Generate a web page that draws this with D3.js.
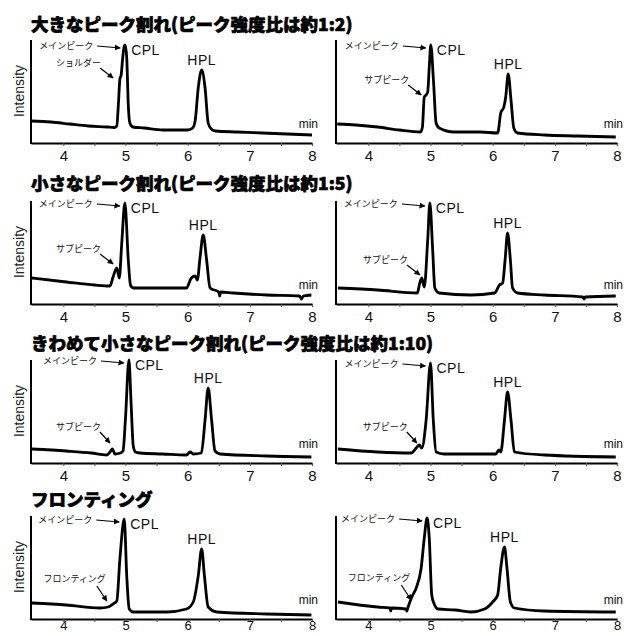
<!DOCTYPE html>
<html>
<head>
  <meta charset="utf-8">
  <script src="https://d3js.org/d3.v7.min.js"></script>
  <style>
    html, body {
        margin:0px;
        padding:0px;
        background:#fff;
    }
    text {
        font-family: "Liberation Sans", Arial, sans-serif;
    }
    .jp {
        font-family: "Noto Sans CJK JP", sans-serif;
    }
  </style>
  <title></title>
</head>
<body>
<script>
    // x axis (min) and labels
    var xDomain = [3.48, 8];
    var xTickLabels = [4, 5, 6, 7, 8];
    var xMinorTicks = [4, 4.5, 5, 5.5, 6, 6.5, 7, 7.5, 8];

    var rowTitles = [
        "大きなピーク割れ(ピーク強度比は約1:2)",
        "小さなピーク割れ(ピーク強度比は約1:5)",
        "きわめて小さなピーク割れ(ピーク強度比は約1:10)",
        "フロンティング"
    ];
    var mainLabel = "メインピーク";
    var subLabels = ["ショルダー", "サブピーク", "サブピーク", "サブピーク",
                     "サブピーク", "サブピーク", "フロンティング", "フロンティング"];

    // traces: [min, intensity]
    var trace1L = [[3.48,22],[3.8,21],[4.1,19],[4.4,17],[4.7,16],[4.82,15.5],[4.86,17],[4.885,38],[4.91,64],[4.93,68],[4.955,85],[4.98,97],[4.995,98],[5.02,85],[5.045,38],[5.07,20],[5.12,16],[5.3,15],[5.6,13],[6.0,13],[6.08,15],[6.12,22],[6.17,55],[6.225,73],[6.28,55],[6.33,20],[6.38,14],[6.45,12],[6.8,11],[7.2,10],[7.6,9],[8.0,8]];
    var trace1R = [[3.5,19],[3.8,18],[4.15,16],[4.5,13],[4.84,11],[4.87,16],[4.9,46],[4.93,48],[4.955,51],[4.98,76],[5.005,98],[5.05,60],[5.09,20],[5.14,15],[5.38,11],[5.8,11],[6.08,10],[6.13,30],[6.18,36],[6.21,46],[6.25,69],[6.295,43],[6.34,15],[6.4,10],[6.83,8],[7.37,7],[7.98,6]];
    var trace2L = [[3.49,26],[4.05,22],[4.5,19],[4.75,18],[4.8,27],[4.86,36],[4.9,26],[4.94,61],[4.99,101],[5.045,44],[5.08,19],[5.13,16],[5.66,16],[5.98,16],[6.06,26],[6.12,28],[6.155,24],[6.2,47],[6.25,69],[6.305,44],[6.36,16],[6.5,12],[6.515,8],[6.53,12],[6.73,11],[7.27,9],[7.8,8],[7.83,5],[7.86,8],[7.99,9]];
    var trace2R = [[3.51,16],[4.15,14],[4.79,11],[4.82,19],[4.86,26],[4.9,17],[4.955,64],[4.99,101],[5.035,54],[5.07,16],[5.14,11],[5.65,9],[6.03,11],[6.11,19],[6.16,21],[6.2,44],[6.24,71],[6.285,44],[6.32,16],[6.4,11],[6.83,9],[7.45,7],[7.47,5],[7.49,7],[7.98,8]];
    var trace3L = [[3.49,14],[4.05,12],[4.45,10],[4.7,8],[4.75,11],[4.79,14],[4.83,9],[4.92,10],[4.96,12],[5.0,45],[5.055,103],[5.09,60],[5.125,17],[5.16,11],[5.23,10],[5.6,9],[5.98,8],[6.04,11],[6.09,9],[6.22,10],[6.28,43],[6.33,75],[6.385,43],[6.44,12],[6.52,9],[7.27,7],[7.99,6]];
    var trace3R = [[3.51,14],[4.15,11],[4.69,10],[4.77,15],[4.82,18],[4.86,15],[4.93,43],[5.0,100],[5.045,43],[5.09,11],[5.22,9],[6.05,9],[6.1,13],[6.13,11],[6.19,43],[6.24,71],[6.295,43],[6.35,11],[6.83,8],[7.98,6]];
    var trace4L = [[3.49,16],[4.05,14],[4.59,11],[4.72,12],[4.8,15],[4.86,18],[4.91,60],[4.98,100],[5.02,43],[5.06,10],[5.125,7],[5.66,7],[5.98,10],[6.09,17],[6.17,43],[6.225,70],[6.27,43],[6.33,12],[6.47,7],[7.27,5],[7.99,4]];
    var trace4R = [[3.51,17],[4.15,12],[4.35,11],[4.36,8],[4.37,11],[4.6,10],[4.62,8],[4.64,12],[4.7,22],[4.77,31],[4.85,51],[4.9,81],[4.945,101],[4.98,81],[5.02,24],[5.06,15],[5.12,10],[5.4,9],[5.65,7],[5.87,10],[6.0,17],[6.08,24],[6.13,51],[6.19,72],[6.23,51],[6.285,17],[6.35,11],[6.83,8],[7.98,7]];

    // where the sub-peak arrows point, [min, intensity]
    var subTips = [[4.80,65],[4.85,48],[4.80,40],[4.83,29],[4.75,20],[4.78,20],[4.70,18],[4.69,19]];

    var traces = [trace1L, trace1R, trace2L, trace2R, trace3L, trace3R, trace4L, trace4R];

    // layout
    var W = 624, H = 636;
    var rowAxisY = [143, 304, 463, 619];
    var rowTitleY = [31, 190, 350, 506];
    var colRange = [[31, 312], [336, 617]];
    // arrow direction (start -> tip) for the sub-peak notes, per row
    var subVec = [[13, 10], [13, 10], [10, 11], [10, 15]];

    var svg = d3.select("body").append("svg")
        .attr("width", W).attr("height", H);

    var defs = svg.append("defs");
    defs.append("marker")
        .attr("id", "arrow")
        .attr("viewBox", "0 0 10 10")
        .attr("refX", 9).attr("refY", 5)
        .attr("markerWidth", 6).attr("markerHeight", 6)
        .attr("markerUnits", "userSpaceOnUse")
        .attr("orient", "auto")
        .append("path")
        .attr("d", "M0,0 L10,5 L0,10 z")
        .style("fill", "#000");

    // titles (stroked a little to get the heavy look)
    rowTitles.forEach(function(t, r) {
        svg.append("text")
            .attr("class", "jp")
            .attr("x", 31).attr("y", rowTitleY[r])
            .style("font-size", "17.5px")
            .style("font-weight", "900")
            .style("fill", "#000")
            .style("stroke", "#000")
            .style("stroke-width", 0.7)
            .style("stroke-linejoin", "round")
            .text(t);
    });

    traces.forEach(function(data, i) {
        var r = Math.floor(i / 2), c = i % 2;
        var axisY = rowAxisY[r];
        var x = d3.scaleLinear().domain(xDomain).range(colRange[c]);
        var y = d3.scaleLinear().domain([0, 100]).range([axisY, axisY - 100]);
        var g = svg.append("g");

        // x axis (bottom row squeezed so its numbers stay inside the page)
        var last = r === 3;
        var xAxis = d3.axisBottom(x)
            .tickValues(xMinorTicks)
            .tickSize(3)
            .tickSizeOuter(0)
            .tickPadding(last ? -1 : 4)
            .tickFormat(function(d) { return xTickLabels.indexOf(d) >= 0 ? d : ""; });
        var ax = g.append("g")
            .attr("transform", "translate(0," + axisY + ")")
            .call(xAxis);
        ax.select(".domain").style("stroke", "#000").style("stroke-width", 2);
        ax.selectAll(".tick line").style("stroke", "#555").style("stroke-width", 1);
        ax.selectAll(".tick text")
            .style("font-family", "\"Liberation Sans\", Arial, sans-serif")
            .style("font-size", last ? "13px" : "15px")
            .style("fill", "#111");

        // y axis line
        g.append("line")
            .attr("x1", x(xDomain[0])).attr("x2", x(xDomain[0]))
            .attr("y1", y(0) + 1).attr("y2", y(103))
            .style("stroke", "#000").style("stroke-width", 2);

        if (c === 0) {
            g.append("text")
                .attr("transform", "translate(19," + (axisY - 52) + ") rotate(-90)")
                .attr("text-anchor", "middle")
                .attr("dy", "0.35em")
                .style("font-size", "14px")
                .style("fill", "#222")
                .text("Intensity");
        }

        // trace
        var line = d3.line()
            .x(function(d) { return x(d[0]); })
            .y(function(d) { return y(d[1]); })
            .curve(d3.curveMonotoneX);
        g.append("path")
            .datum(data)
            .attr("d", line)
            .style("fill", "none")
            .style("stroke", "#000")
            .style("stroke-width", 2.8)
            .style("stroke-linejoin", "round");

        // min label
        g.append("text")
            .attr("x", x(xDomain[1]) + 6).attr("y", axisY - 15)
            .attr("text-anchor", "end")
            .style("font-size", "12px")
            .style("fill", "#111")
            .text("min");

        // peaks
        var cpl = d3.greatest(data.filter(function(d) { return d[0] < 5.5; }), function(d) { return d[1]; });
        var hpl = d3.greatest(data.filter(function(d) { return d[0] > 5.5; }), function(d) { return d[1]; });

        g.append("text")
            .attr("x", x(cpl[0]) + 6).attr("y", y(cpl[1]) + 10)
            .style("font-size", "14px")
            .style("letter-spacing", "0.5px")
            .style("fill", "#111")
            .text("CPL");
        g.append("text")
            .attr("x", x(hpl[0])).attr("y", y(hpl[1]) - 5)
            .attr("text-anchor", "middle")
            .style("font-size", "14px")
            .style("letter-spacing", "0.5px")
            .style("fill", "#111")
            .text("HPL");

        // main peak arrow + note
        var tx = x(cpl[0]) - 5, ty = y(cpl[1]) + 3;
        var sx = tx - 23, sy = ty - 2;
        g.append("line")
            .attr("x1", sx).attr("y1", sy).attr("x2", tx).attr("y2", ty)
            .attr("marker-end", "url(#arrow)")
            .style("stroke", "#000").style("stroke-width", 1.2);
        g.append("text")
            .attr("class", "jp")
            .attr("x", sx - 4).attr("y", sy + 3)
            .attr("text-anchor", "end")
            .style("font-size", "9px")
            .style("fill", "#111")
            .text(mainLabel);

        // sub peak arrow + note
        var tip = subTips[i];
        var ex = x(tip[0]), ey = y(tip[1]);
        var bx = ex - subVec[r][0], by = ey - subVec[r][1];
        g.append("line")
            .attr("x1", bx).attr("y1", by).attr("x2", ex).attr("y2", ey)
            .attr("marker-end", "url(#arrow)")
            .style("stroke", "#000").style("stroke-width", 1.2);
        g.append("text")
            .attr("class", "jp")
            .attr("x", r === 3 ? bx + 9 : bx + 1)
            .attr("y", r === 3 ? by - 4 : by - 2)
            .attr("text-anchor", "end")
            .style("font-size", "9px")
            .style("fill", "#111")
            .text(subLabels[i]);
    });
</script>
</body>
</html>
